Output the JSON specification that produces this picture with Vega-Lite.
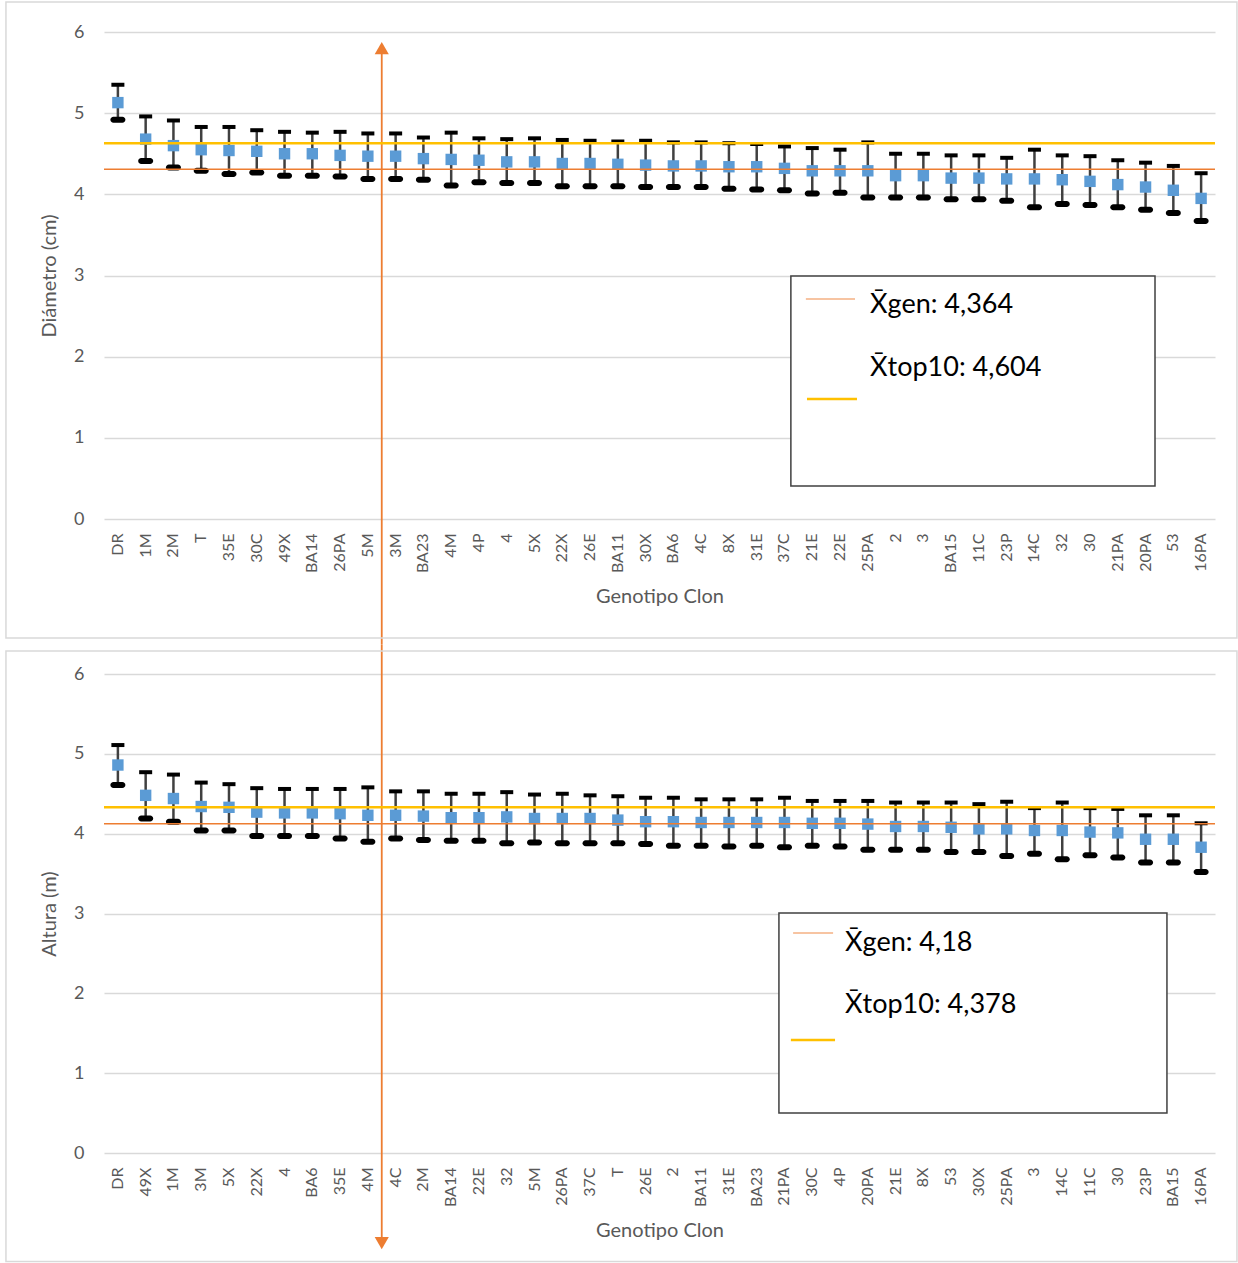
{
  "$schema": "https://vega.github.io/schema/vega-lite/v6.json",
  "padding": {"left": 5, "top": 1, "right": 0, "bottom": 0},
  "bounds": "flush",
  "spacing": 155,
  "config": {
    "view": {"stroke": null},
    "font": "Lato",
    "axis": {"domain": false, "ticks": false, "labelColor": "#595959", "titleColor": "#595959", "titleFontWeight": "normal", "labelFont": "Lato", "titleFont": "Lato"},
    "axisY": {"grid": true, "gridColor": "#d9d9d9", "gridWidth": 1.5, "labelFontSize": 18, "labelPadding": 20, "titleFontSize": 20, "titlePadding": 14},
    "axisX": {"grid": false, "labelAngle": -90, "labelFontSize": 16, "labelPadding": 14, "titleFontSize": 20, "titlePadding": 14}
  },
  "datasets": {
    "top": [
      {"clon": "DR", "media": 5.13, "inf": 4.92, "sup": 5.35},
      {"clon": "1M", "media": 4.68, "inf": 4.41, "sup": 4.96},
      {"clon": "2M", "media": 4.60, "inf": 4.33, "sup": 4.91},
      {"clon": "T", "media": 4.55, "inf": 4.29, "sup": 4.83},
      {"clon": "35E", "media": 4.54, "inf": 4.25, "sup": 4.83},
      {"clon": "30C", "media": 4.53, "inf": 4.27, "sup": 4.79},
      {"clon": "49X", "media": 4.50, "inf": 4.23, "sup": 4.77},
      {"clon": "BA14", "media": 4.50, "inf": 4.23, "sup": 4.76},
      {"clon": "26PA", "media": 4.48, "inf": 4.22, "sup": 4.77},
      {"clon": "5M", "media": 4.47, "inf": 4.19, "sup": 4.75},
      {"clon": "3M", "media": 4.47, "inf": 4.19, "sup": 4.75},
      {"clon": "BA23", "media": 4.44, "inf": 4.18, "sup": 4.70},
      {"clon": "4M", "media": 4.43, "inf": 4.11, "sup": 4.76},
      {"clon": "4P", "media": 4.42, "inf": 4.15, "sup": 4.69},
      {"clon": "4", "media": 4.40, "inf": 4.14, "sup": 4.68},
      {"clon": "5X", "media": 4.40, "inf": 4.14, "sup": 4.69},
      {"clon": "22X", "media": 4.38, "inf": 4.10, "sup": 4.67},
      {"clon": "26E", "media": 4.38, "inf": 4.10, "sup": 4.66},
      {"clon": "BA11", "media": 4.37, "inf": 4.10, "sup": 4.65},
      {"clon": "30X", "media": 4.36, "inf": 4.09, "sup": 4.66},
      {"clon": "BA6", "media": 4.35, "inf": 4.09, "sup": 4.64},
      {"clon": "4C", "media": 4.35, "inf": 4.09, "sup": 4.64},
      {"clon": "8X", "media": 4.34, "inf": 4.07, "sup": 4.63},
      {"clon": "31E", "media": 4.34, "inf": 4.06, "sup": 4.62},
      {"clon": "37C", "media": 4.32, "inf": 4.05, "sup": 4.59},
      {"clon": "21E", "media": 4.29, "inf": 4.01, "sup": 4.57},
      {"clon": "22E", "media": 4.29, "inf": 4.02, "sup": 4.55},
      {"clon": "25PA", "media": 4.29, "inf": 3.96, "sup": 4.64},
      {"clon": "2", "media": 4.23, "inf": 3.96, "sup": 4.50},
      {"clon": "3", "media": 4.23, "inf": 3.96, "sup": 4.50},
      {"clon": "BA15", "media": 4.20, "inf": 3.94, "sup": 4.48},
      {"clon": "11C", "media": 4.20, "inf": 3.94, "sup": 4.48},
      {"clon": "23P", "media": 4.19, "inf": 3.92, "sup": 4.45},
      {"clon": "14C", "media": 4.19, "inf": 3.84, "sup": 4.55},
      {"clon": "32", "media": 4.18, "inf": 3.88, "sup": 4.48},
      {"clon": "30", "media": 4.16, "inf": 3.87, "sup": 4.47},
      {"clon": "21PA", "media": 4.12, "inf": 3.84, "sup": 4.42},
      {"clon": "20PA", "media": 4.09, "inf": 3.81, "sup": 4.39},
      {"clon": "53", "media": 4.05, "inf": 3.77, "sup": 4.35},
      {"clon": "16PA", "media": 3.95, "inf": 3.67, "sup": 4.26}
    ],
    "bot": [
      {"clon": "DR", "media": 4.86, "inf": 4.61, "sup": 5.11},
      {"clon": "49X", "media": 4.48, "inf": 4.19, "sup": 4.77},
      {"clon": "1M", "media": 4.44, "inf": 4.15, "sup": 4.74},
      {"clon": "3M", "media": 4.34, "inf": 4.04, "sup": 4.64},
      {"clon": "5X", "media": 4.33, "inf": 4.04, "sup": 4.62},
      {"clon": "22X", "media": 4.27, "inf": 3.97, "sup": 4.57},
      {"clon": "4", "media": 4.26, "inf": 3.97, "sup": 4.56},
      {"clon": "BA6", "media": 4.26, "inf": 3.97, "sup": 4.56},
      {"clon": "35E", "media": 4.25, "inf": 3.94, "sup": 4.56},
      {"clon": "4M", "media": 4.23, "inf": 3.90, "sup": 4.58},
      {"clon": "4C", "media": 4.23, "inf": 3.94, "sup": 4.53},
      {"clon": "2M", "media": 4.22, "inf": 3.92, "sup": 4.53},
      {"clon": "BA14", "media": 4.20, "inf": 3.91, "sup": 4.50},
      {"clon": "22E", "media": 4.20, "inf": 3.91, "sup": 4.50},
      {"clon": "32", "media": 4.21, "inf": 3.88, "sup": 4.52},
      {"clon": "5M", "media": 4.19, "inf": 3.89, "sup": 4.49},
      {"clon": "26PA", "media": 4.19, "inf": 3.88, "sup": 4.50},
      {"clon": "37C", "media": 4.19, "inf": 3.88, "sup": 4.48},
      {"clon": "T", "media": 4.17, "inf": 3.88, "sup": 4.47},
      {"clon": "26E", "media": 4.15, "inf": 3.87, "sup": 4.45},
      {"clon": "2", "media": 4.15, "inf": 3.85, "sup": 4.45},
      {"clon": "BA11", "media": 4.14, "inf": 3.85, "sup": 4.43},
      {"clon": "31E", "media": 4.14, "inf": 3.84, "sup": 4.43},
      {"clon": "BA23", "media": 4.14, "inf": 3.85, "sup": 4.43},
      {"clon": "21PA", "media": 4.14, "inf": 3.83, "sup": 4.45},
      {"clon": "30C", "media": 4.13, "inf": 3.85, "sup": 4.41},
      {"clon": "4P", "media": 4.13, "inf": 3.84, "sup": 4.41},
      {"clon": "20PA", "media": 4.12, "inf": 3.80, "sup": 4.41},
      {"clon": "21E", "media": 4.09, "inf": 3.80, "sup": 4.39},
      {"clon": "8X", "media": 4.09, "inf": 3.80, "sup": 4.39},
      {"clon": "53", "media": 4.08, "inf": 3.77, "sup": 4.39},
      {"clon": "30X", "media": 4.06, "inf": 3.77, "sup": 4.37},
      {"clon": "25PA", "media": 4.06, "inf": 3.72, "sup": 4.40},
      {"clon": "3", "media": 4.04, "inf": 3.75, "sup": 4.32},
      {"clon": "14C", "media": 4.04, "inf": 3.68, "sup": 4.39},
      {"clon": "11C", "media": 4.02, "inf": 3.73, "sup": 4.32},
      {"clon": "30", "media": 4.01, "inf": 3.70, "sup": 4.31},
      {"clon": "23P", "media": 3.93, "inf": 3.64, "sup": 4.23},
      {"clon": "BA15", "media": 3.93, "inf": 3.64, "sup": 4.23},
      {"clon": "16PA", "media": 3.83, "inf": 3.52, "sup": 4.13}
    ]
  },
  "vconcat": [
    {
      "width": 1111,
      "height": 487,
      "resolve": {"scale": {"x": "independent"}},
      "layer": [
        {
          "data": {"name": "top"},
          "encoding": {"x": {"field": "clon", "type": "nominal", "sort": null, "title": "Genotipo Clon", "scale": {"type": "band", "paddingInner": 0, "paddingOuter": 0}}},
          "layer": [
            {"mark": {"type": "rule", "color": "#404040", "strokeWidth": 2.5}, "encoding": {"y": {"field": "inf", "type": "quantitative", "title": "Diámetro (cm)", "scale": {"domain": [0, 6], "nice": false}, "axis": {"values": [0, 1, 2, 3, 4, 5, 6], "format": "d"}}, "y2": {"field": "sup"}}},
            {"mark": {"type": "tick", "color": "#000000", "thickness": 4, "size": 13, "opacity": 1}, "encoding": {"y": {"field": "sup", "type": "quantitative", "title": "Diámetro (cm)"}}},
            {"mark": {"type": "tick", "color": "#000000", "thickness": 6, "size": 15, "cornerRadius": 3, "opacity": 1}, "encoding": {"y": {"field": "inf", "type": "quantitative", "title": "Diámetro (cm)"}}},
            {"mark": {"type": "point", "shape": "square", "filled": true, "color": "#5B9BD5", "size": 130, "opacity": 1}, "encoding": {"y": {"field": "media", "type": "quantitative", "title": "Diámetro (cm)"}}},
            {"transform": [{"filter": "datum.clon === '3M'"}], "mark": {"type": "rule", "color": "#ED7D31", "strokeWidth": 1.8}, "encoding": {"x": {"field": "clon", "type": "nominal", "sort": null, "bandPosition": 0}, "y": {"datum": 5.8, "type": "quantitative", "title": "Diámetro (cm)"}, "y2": {"datum": -1.55}}},
            {"transform": [{"filter": "datum.clon === '3M'"}], "mark": {"type": "point", "shape": "triangle-up", "filled": true, "color": "#ED7D31", "size": 200, "opacity": 1}, "encoding": {"x": {"field": "clon", "type": "nominal", "sort": null, "bandPosition": 0}, "y": {"datum": 5.8, "type": "quantitative", "title": "Diámetro (cm)"}}}
          ]
        },
        {
          "data": {"values": [{}]},
          "layer": [
            {"mark": {"type": "rect", "fill": "white", "fillOpacity": 0, "stroke": "#d9d9d9", "strokeWidth": 1.5}, "encoding": {"x": {"datum": -3.53, "type": "quantitative", "axis": null, "scale": {"domain": [0, 40], "nice": false, "zero": false}}, "x2": {"datum": 40.79}, "y": {"datum": 6.37, "type": "quantitative", "title": "Diámetro (cm)"}, "y2": {"datum": -1.466}}},
            {"mark": {"type": "rule", "color": "#ED7D31", "strokeWidth": 1.5}, "encoding": {"y": {"datum": 4.31, "type": "quantitative", "title": "Diámetro (cm)"}}},
            {"mark": {"type": "rule", "color": "#FFC000", "strokeWidth": 2.5}, "encoding": {"y": {"datum": 4.63, "type": "quantitative", "title": "Diámetro (cm)"}}},
            {"mark": {"type": "rect", "fill": "white", "stroke": "#404040", "strokeWidth": 1.5}, "encoding": {"x": {"datum": 24.73, "type": "quantitative", "axis": null}, "x2": {"datum": 37.84}, "y": {"datum": 2.994, "type": "quantitative", "title": "Diámetro (cm)"}, "y2": {"datum": 0.407}}},
            {"mark": {"type": "rule", "color": "#F4B183", "strokeWidth": 1.5}, "encoding": {"x": {"datum": 25.27, "type": "quantitative", "axis": null}, "x2": {"datum": 27.04}, "y": {"datum": 2.71, "type": "quantitative", "title": "Diámetro (cm)"}}},
            {"mark": {"type": "rule", "color": "#FFC000", "strokeWidth": 2.5}, "encoding": {"x": {"datum": 25.31, "type": "quantitative", "axis": null}, "x2": {"datum": 27.11}, "y": {"datum": 1.478, "type": "quantitative", "title": "Diámetro (cm)"}}},
            {"mark": {"type": "text", "align": "left", "baseline": "middle", "fontSize": 27, "color": "#000000", "font": "Lato"}, "encoding": {"x": {"datum": 27.58, "type": "quantitative", "axis": null}, "y": {"datum": 2.636, "type": "quantitative", "title": "Diámetro (cm)"}, "text": {"value": "X̄gen: 4,364"}}},
            {"mark": {"type": "text", "align": "left", "baseline": "middle", "fontSize": 27, "color": "#000000", "font": "Lato"}, "encoding": {"x": {"datum": 27.58, "type": "quantitative", "axis": null}, "y": {"datum": 1.86, "type": "quantitative", "title": "Diámetro (cm)"}, "text": {"value": "X̄top10: 4,604"}}}
          ]
        }
      ]
    },
    {
      "width": 1111,
      "height": 479,
      "resolve": {"scale": {"x": "independent"}},
      "layer": [
        {
          "data": {"name": "bot"},
          "encoding": {"x": {"field": "clon", "type": "nominal", "sort": null, "title": "Genotipo Clon", "scale": {"type": "band", "paddingInner": 0, "paddingOuter": 0}}},
          "layer": [
            {"mark": {"type": "rule", "color": "#404040", "strokeWidth": 2.5}, "encoding": {"y": {"field": "inf", "type": "quantitative", "title": "Altura (m)", "scale": {"domain": [0, 6], "nice": false}, "axis": {"values": [0, 1, 2, 3, 4, 5, 6], "format": "d"}}, "y2": {"field": "sup"}}},
            {"mark": {"type": "tick", "color": "#000000", "thickness": 4, "size": 13, "opacity": 1}, "encoding": {"y": {"field": "sup", "type": "quantitative", "title": "Altura (m)"}}},
            {"mark": {"type": "tick", "color": "#000000", "thickness": 6, "size": 15, "cornerRadius": 3, "opacity": 1}, "encoding": {"y": {"field": "inf", "type": "quantitative", "title": "Altura (m)"}}},
            {"mark": {"type": "point", "shape": "square", "filled": true, "color": "#5B9BD5", "size": 130, "opacity": 1}, "encoding": {"y": {"field": "media", "type": "quantitative", "title": "Altura (m)"}}},
            {"transform": [{"filter": "datum.clon === '4C'"}], "mark": {"type": "rule", "color": "#ED7D31", "strokeWidth": 1.8}, "encoding": {"x": {"field": "clon", "type": "nominal", "sort": null, "bandPosition": 0}, "y": {"datum": 6.364, "type": "quantitative", "title": "Altura (m)"}, "y2": {"datum": -1.13}}},
            {"transform": [{"filter": "datum.clon === '4C'"}], "mark": {"type": "point", "shape": "triangle-down", "filled": true, "color": "#ED7D31", "size": 200, "opacity": 1}, "encoding": {"x": {"field": "clon", "type": "nominal", "sort": null, "bandPosition": 0}, "y": {"datum": -1.13, "type": "quantitative", "title": "Altura (m)"}}}
          ]
        },
        {
          "data": {"values": [{}]},
          "layer": [
            {"mark": {"type": "rect", "fill": "white", "fillOpacity": 0, "stroke": "#d9d9d9", "strokeWidth": 1.5}, "encoding": {"x": {"datum": -3.53, "type": "quantitative", "axis": null, "scale": {"domain": [0, 40], "nice": false, "zero": false}}, "x2": {"datum": 40.79}, "y": {"datum": 6.288, "type": "quantitative", "title": "Altura (m)"}, "y2": {"datum": -1.36}}},
            {"mark": {"type": "rule", "color": "#ED7D31", "strokeWidth": 1.5}, "encoding": {"y": {"datum": 4.125, "type": "quantitative", "title": "Altura (m)"}}},
            {"mark": {"type": "rule", "color": "#FFC000", "strokeWidth": 2.5}, "encoding": {"y": {"datum": 4.33, "type": "quantitative", "title": "Altura (m)"}}},
            {"mark": {"type": "rect", "fill": "white", "stroke": "#404040", "strokeWidth": 1.5}, "encoding": {"x": {"datum": 24.3, "type": "quantitative", "axis": null}, "x2": {"datum": 38.27}, "y": {"datum": 3.006, "type": "quantitative", "title": "Altura (m)"}, "y2": {"datum": 0.501}}},
            {"mark": {"type": "rule", "color": "#F4B183", "strokeWidth": 1.5}, "encoding": {"x": {"datum": 24.81, "type": "quantitative", "axis": null}, "x2": {"datum": 26.25}, "y": {"datum": 2.756, "type": "quantitative", "title": "Altura (m)"}}},
            {"mark": {"type": "rule", "color": "#FFC000", "strokeWidth": 2.5}, "encoding": {"x": {"datum": 24.73, "type": "quantitative", "axis": null}, "x2": {"datum": 26.32}, "y": {"datum": 1.4155, "type": "quantitative", "title": "Altura (m)"}}},
            {"mark": {"type": "text", "align": "left", "baseline": "middle", "fontSize": 27, "color": "#000000", "font": "Lato"}, "encoding": {"x": {"datum": 26.68, "type": "quantitative", "axis": null}, "y": {"datum": 2.63, "type": "quantitative", "title": "Altura (m)"}, "text": {"value": "X̄gen: 4,18"}}},
            {"mark": {"type": "text", "align": "left", "baseline": "middle", "fontSize": 27, "color": "#000000", "font": "Lato"}, "encoding": {"x": {"datum": 26.68, "type": "quantitative", "axis": null}, "y": {"datum": 1.854, "type": "quantitative", "title": "Altura (m)"}, "text": {"value": "X̄top10: 4,378"}}}
          ]
        }
      ]
    }
  ]
}
